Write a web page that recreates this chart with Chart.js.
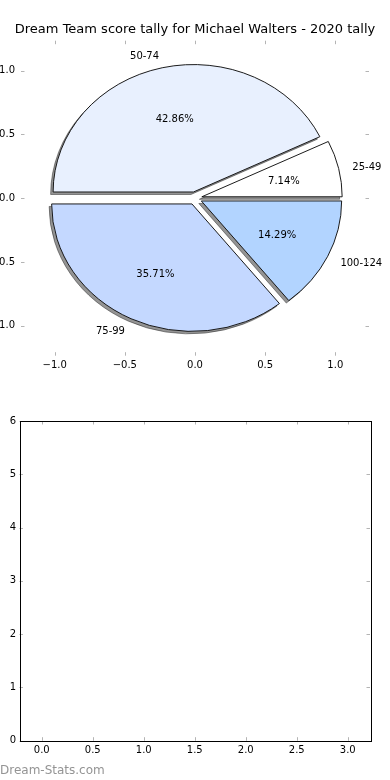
<!DOCTYPE html>
<html>
<head>
<meta charset="utf-8">
<script src="https://cdn.jsdelivr.net/npm/chart.js@4.4.1/dist/chart.umd.min.js"></script>
<style>
  html, body { margin: 0; padding: 0; background: #fff; }
  #wrap { position: relative; width: 390px; height: 780px; overflow: hidden; background: #fff; }
  #pie { position: absolute; left: -30px; top: 0; }
  #empty { position: absolute; left: 0; top: 390px; }
  #mark { position: absolute; left: 0; top: 762px; font: 12px "DejaVu Sans"; line-height: 16px; color: #949494; }
</style>
</head>
<body>
<div id="wrap">
  <canvas id="pie" width="450" height="390"></canvas>
  <canvas id="empty" width="390" height="390"></canvas>
  <div id="mark">Dream-Stats.com</div>
</div>
<script>
// score bands and how many rounds fell in each
const scoreBands = ['25-49', '50-74', '75-99', '100-124'];
const bandCounts = [1, 6, 5, 2];
const bandColors = ['#ffffff', '#e8f0fe', '#c4d8ff', '#b2d4ff'];
const explode = [0.05, 0.05, 0.05, 0.05];

// pie axes
const pieXRange = [-1.24, 1.24];
const pieYRange = [-1.236, 1.236];
const pieTicks = [-1, -0.5, 0, 0.5, 1];

// empty axes below
const emptyXRange = [-0.218, 3.218];
const emptyYRange = [0, 6];
const emptyXTicks = [0, 0.5, 1, 1.5, 2, 2.5, 3];
const emptyYTicks = [0, 1, 2, 3, 4, 5, 6];

const chartTitle = 'Dream Team score tally for Michael Walters - 2020 tally';

Chart.defaults.font.family = 'DejaVu Sans';
Chart.defaults.color = '#000';

function pxPerUnit(scale) {
  return Math.abs(scale.getPixelForValue(1) - scale.getPixelForValue(0));
}

function oneDecimal(v) {
  return (v < 0 ? '\u2212' : '') + Math.abs(v).toFixed(1);
}

function fixedTicks(values) {
  return (s) => { s.ticks = values.map((v) => ({ value: v })); };
}

const tickFont = { family: 'DejaVu Sans', size: 10 };

/**
 * Matplotlib style tick marks, pointing inwards on all four sides
 */
function insideTicks(drawFrame) {
  return {
    id: 'insideTicks',
    afterDraw(chart) {
      const { ctx, chartArea: a } = chart;
      const sx = chart.scales.x;
      const sy = chart.scales.y;
      const len = 3.5;
      ctx.save();
      ctx.strokeStyle = '#b4b4b4';
      ctx.lineWidth = 1;
      ctx.beginPath();
      sx.ticks.forEach((t) => {
        const px = Math.round(sx.getPixelForValue(t.value)) + 0.5;
        ctx.moveTo(px, a.top); ctx.lineTo(px, a.top + len);
        ctx.moveTo(px, a.bottom); ctx.lineTo(px, a.bottom - len);
      });
      sy.ticks.forEach((t) => {
        const py = Math.round(sy.getPixelForValue(t.value)) + 0.5;
        ctx.moveTo(a.left, py); ctx.lineTo(a.left + len, py);
        ctx.moveTo(a.right, py); ctx.lineTo(a.right - len, py);
      });
      ctx.stroke();
      if (drawFrame) {
        ctx.strokeStyle = '#000';
        ctx.strokeRect(Math.round(a.left) + 0.5, Math.round(a.top) + 0.5,
          Math.round(a.right - a.left), Math.round(a.bottom - a.top));
      }
      ctx.restore();
    },
  };
}

/**
 * Squash the pie into the axes' aspect, explode the wedges, and add the shadow
 */
const pieShape = {
  id: 'pieShape',
  afterDatasetsUpdate(chart) {
    const sx = chart.scales.x;
    const sy = chart.scales.y;
    const unit = pxPerUnit(sx);
    const cx = sx.getPixelForValue(0);
    const cy = sy.getPixelForValue(0);
    chart.getDatasetMeta(0).data.forEach((arc, i) => {
      const mid = (arc.startAngle + arc.endAngle) / 2;
      arc.x = cx + Math.cos(mid) * explode[i] * unit;
      arc.y = cy + Math.sin(mid) * explode[i] * unit;
    });
  },
  beforeDatasetsDraw(chart) {
    const ctx = chart.ctx;
    const sx = chart.scales.x;
    const sy = chart.scales.y;
    const cx = sx.getPixelForValue(0);
    const cy = sy.getPixelForValue(0);
    const ky = pxPerUnit(sy) / pxPerUnit(sx);
    const arcs = chart.getDatasetMeta(0).data;
    // flip vertically so wedges run counter-clockwise from 3 o'clock
    const squash = () => {
      ctx.translate(cx, cy);
      ctx.scale(1, -ky);
      ctx.translate(-cx, -cy);
    };

    // shadow only: draw far off canvas, shadow offset brings it back
    ctx.save();
    ctx.shadowColor = 'rgba(0, 0, 0, 0.42)';
    ctx.shadowBlur = 0;
    ctx.shadowOffsetX = 10000 - 2.5;
    ctx.shadowOffsetY = 2.5;
    ctx.translate(-10000, 0);
    squash();
    arcs.forEach((arc) => arc.draw(ctx));
    ctx.restore();

    ctx.save();
    squash();
    arcs.forEach((arc) => arc.draw(ctx));
    ctx.restore();
    return false;
  },
  afterDraw(chart) {
    const ctx = chart.ctx;
    const sx = chart.scales.x;
    const sy = chart.scales.y;
    const total = bandCounts.reduce((a, b) => a + b, 0);
    let start = 0;
    ctx.save();
    ctx.fillStyle = '#000';
    ctx.font = '10px "DejaVu Sans"';
    ctx.textBaseline = 'middle';
    bandCounts.forEach((count, i) => {
      const frac = count / total;
      const mid = (start + frac / 2) * 2 * Math.PI;
      start += frac;
      const cos = Math.cos(mid);
      const sin = Math.sin(mid);
      const lr = 1.1 + explode[i];
      const pr = 0.6 + explode[i];
      ctx.textAlign = lr * cos > 0 ? 'left' : 'right';
      ctx.fillText(scoreBands[i], sx.getPixelForValue(lr * cos), sy.getPixelForValue(lr * sin) + 1.5);
      ctx.textAlign = 'center';
      ctx.fillText((frac * 100).toFixed(2) + '%', sx.getPixelForValue(pr * cos), sy.getPixelForValue(pr * sin) + 1.5);
    });
    ctx.restore();
  },
};

new Chart(document.getElementById('pie'), {
  type: 'pie',
  data: {
    labels: scoreBands,
    datasets: [
      {
        data: bandCounts,
        backgroundColor: bandColors,
        borderColor: '#111',
        borderWidth: 1,
        borderJoinStyle: 'miter',
        rotation: 90,
        radius: (ctx) => pxPerUnit(ctx.chart.scales.x),
        hoverOffset: 0,
      },
    ],
  },
  options: {
    responsive: false,
    devicePixelRatio: 1,
    animation: false,
    events: [],
    layout: { padding: { left: 0, right: 0, top: 0, bottom: 4.3 } },
    plugins: {
      legend: { display: false },
      tooltip: { enabled: false },
      title: {
        display: true,
        text: chartTitle,
        color: '#000',
        font: { family: 'DejaVu Sans', size: 13, weight: 'normal' },
        padding: { top: 22.1, bottom: 3 },
      },
    },
    scales: {
      x: {
        type: 'linear',
        position: 'bottom',
        min: pieXRange[0],
        max: pieXRange[1],
        afterBuildTicks: fixedTicks(pieTicks),
        afterFit: (s) => { s.height = 30; },
        grid: { display: false, drawTicks: false },
        border: { display: false },
        ticks: { padding: 4, color: '#000', font: tickFont, maxRotation: 0, callback: oneDecimal },
      },
      y: {
        type: 'linear',
        position: 'left',
        min: pieYRange[0],
        max: pieYRange[1],
        afterBuildTicks: fixedTicks(pieTicks),
        afterFit: (s) => { s.width = 51; },
        grid: { display: false, drawTicks: false },
        border: { display: false },
        ticks: { padding: 6, color: '#000', font: tickFont, callback: oneDecimal },
      },
      // blank right-hand box so the title centres over the axes
      yRight: {
        type: 'linear',
        position: 'right',
        min: pieYRange[0],
        max: pieYRange[1],
        afterFit: (s) => { s.width = 51; },
        grid: { display: false, drawTicks: false },
        border: { display: false },
        ticks: { display: false },
      },
    },
  },
  plugins: [pieShape, insideTicks(false)],
});

new Chart(document.getElementById('empty'), {
  type: 'scatter',
  data: { datasets: [{ data: [] }] },
  options: {
    responsive: false,
    devicePixelRatio: 1,
    animation: false,
    events: [],
    layout: { padding: { left: 0, right: 20, top: 31, bottom: 19.3 } },
    plugins: {
      legend: { display: false },
      tooltip: { enabled: false },
    },
    scales: {
      x: {
        type: 'linear',
        min: emptyXRange[0],
        max: emptyXRange[1],
        afterBuildTicks: fixedTicks(emptyXTicks),
        afterFit: (s) => { s.height = 20; },
        grid: { display: false, drawTicks: false },
        border: { display: false },
        ticks: { padding: 4, color: '#000', font: tickFont, maxRotation: 0, callback: oneDecimal },
      },
      y: {
        type: 'linear',
        min: emptyYRange[0],
        max: emptyYRange[1],
        afterBuildTicks: fixedTicks(emptyYTicks),
        afterFit: (s) => { s.width = 19.5; },
        grid: { display: false, drawTicks: false },
        border: { display: false },
        ticks: { padding: 3.5, color: '#000', font: tickFont, callback: (v) => String(v) },
      },
    },
  },
  plugins: [insideTicks(true)],
});
</script>
</body>
</html>
